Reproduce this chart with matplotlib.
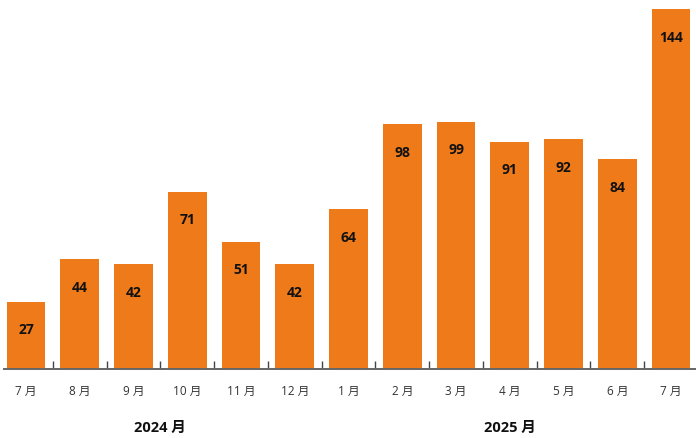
import matplotlib
matplotlib.use("Agg")
from matplotlib import pyplot as plt

plt.rcParams['font.family'] = ['Open Sans', 'Noto Sans CJK JP', 'DejaVu Sans']

# data
months = ["7 月", "8 月", "9 月", "10 月", "11 月", "12 月",
          "1 月", "2 月", "3 月", "4 月", "5 月", "6 月", "7 月"]
values = [27, 44, 42, 71, 51, 42, 64, 98, 99, 91, 92, 84, 144]
years = ["2024 月", "2025 月"]
year_spans = [(0, 5), (6, 12)]

fig = plt.figure(figsize=(6.96, 4.38), dpi=100)
ax = fig.add_axes([0, 69 / 438, 1, 369 / 438])

x = list(range(len(values)))
ax.bar(x, values, width=0.72, color="#EE7A1A")

# value labels inside the top of each bar
for xi, v in zip(x, values):
    ax.text(xi, v - 11.6, str(v), ha="center", va="center",
            fontsize=10, fontweight="bold", color="#111111")

ax.set_xlim(-0.484, 12.465)
ax.set_ylim(0, 144 * 369 / 360)

for s in ["top", "right", "left"]:
    ax.spines[s].set_visible(False)
ax.spines["bottom"].set_color("#666666")
ax.spines["bottom"].set_linewidth(1.4)
ax.spines["bottom"].set_bounds(-0.41, 12.465)

ax.set_yticks([])
ax.set_xticks([i + 0.5 for i in range(12)])
ax.set_xticklabels([])
ax.tick_params(axis="x", direction="in", length=6, width=1, color="#444444")

for xi, m in zip(x, months):
    ax.text(xi, -0.062, m, transform=ax.get_xaxis_transform(), ha="center",
            va="center", fontsize=8.5, color="#333333")

for label, (a, b) in zip(years, year_spans):
    ax.text((a + b) / 2, -0.16, label, transform=ax.get_xaxis_transform(),
            ha="center", va="center", fontsize=10.5, fontweight="bold",
            color="#111111")

fig.savefig("out.png", dpi=100)
